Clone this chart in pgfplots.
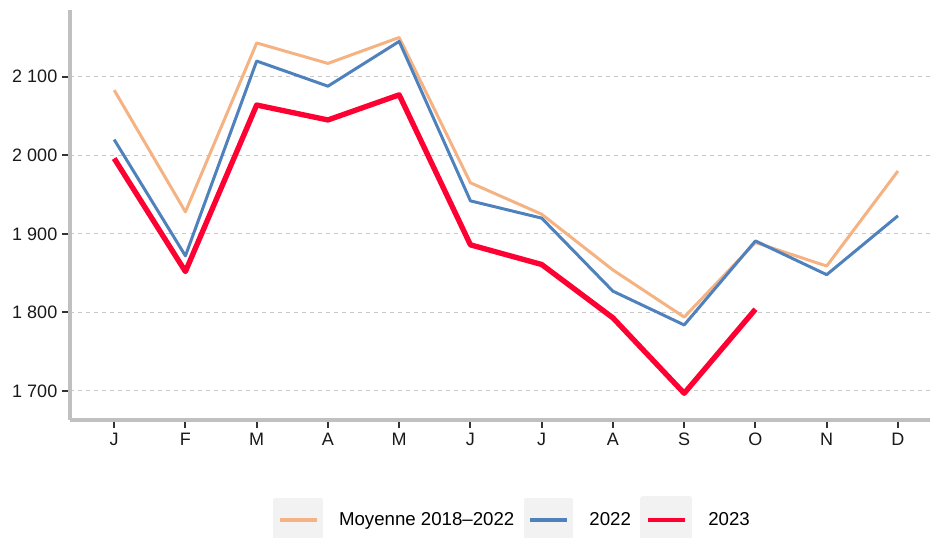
\documentclass[border=0pt]{standalone}
\usepackage{pgfplots}
\pgfplotsset{compat=1.18}
\usepackage{fontspec}
\setmainfont{Liberation Sans}
\definecolor{cOr}{RGB}{245,178,130}
\definecolor{cBl}{RGB}{79,129,189}
\definecolor{cRd}{RGB}{255,0,51}
\definecolor{cAx}{RGB}{192,192,192}
\definecolor{cGr}{RGB}{200,200,200}
\definecolor{cKey}{RGB}{242,242,242}
\begin{document}
\begin{tikzpicture}
\path[use as bounding box] (0,0) rectangle (698.25pt,-403.5pt);
\begin{axis}[
  at={(52.5pt,-315pt)}, anchor=south west,
  scale only axis, width=645pt, height=307.5pt,
  xmin=-0.62, xmax=11.45, ymin=1663, ymax=2185,
  axis lines=left,
  axis line style={-, draw=cAx, line width=3pt},
  xtick={0,...,11},
  xticklabels={J,F,M,A,M,J,J,A,S,O,N,D},
  ytick={1700,1800,1900,2000,2100},
  tick align=outside, major tick length=6pt,
  every tick/.style={draw=black!80, line width=1.5pt},
  major tick style={draw=black!80, line width=1.5pt},
  ymajorgrids, grid style={cGr, line width=0.75pt, dash pattern=on 3pt off 3pt},
  /pgf/number format/assume math mode=true,
  /pgf/number format/1000 sep={\ },
  ticklabel style={font=\fontsize{13.5pt}{16pt}\selectfont, text=black!90},
  legend columns=3,
  legend style={at={(0.515,-0.244)}, anchor=center, draw=none, fill=none,
    font=\fontsize{14pt}{16pt}\selectfont,
    /tikz/every odd column/.append style={column sep=10pt},
    /tikz/every even column/.append style={column sep=5pt}},
  legend cell align=left,
  legend image code/.code={
    \fill[cKey] (0pt,-15.75pt) rectangle (35pt,15.75pt);
    \draw[#1, line width=3.5pt] (3.5pt,0pt) -- (31.5pt,0pt);
  },
]
\addplot[cOr, line width=2.25pt, line join=round] coordinates {
 (0,2083) (1,1928) (2,2143) (3,2117) (4,2150) (5,1965) (6,1925) (7,1854) (8,1794) (9,1889) (10,1859) (11,1980)};
\addlegendentry{Moyenne 2018--2022}
\addplot[cBl, line width=2.25pt, line join=round] coordinates {
 (0,2020) (1,1872) (2,2120) (3,2088) (4,2145) (5,1942) (6,1920) (7,1827) (8,1784) (9,1891) (10,1848) (11,1923)};
\addlegendentry{2022}
\addplot[cRd, line width=4pt, line join=round] coordinates {
 (0,1996) (1,1852) (2,2064) (3,2045) (4,2077) (5,1886) (6,1861) (7,1793) (8,1697) (9,1804)};
\addlegendentry{2023}
\end{axis}
\end{tikzpicture}
\end{document}
